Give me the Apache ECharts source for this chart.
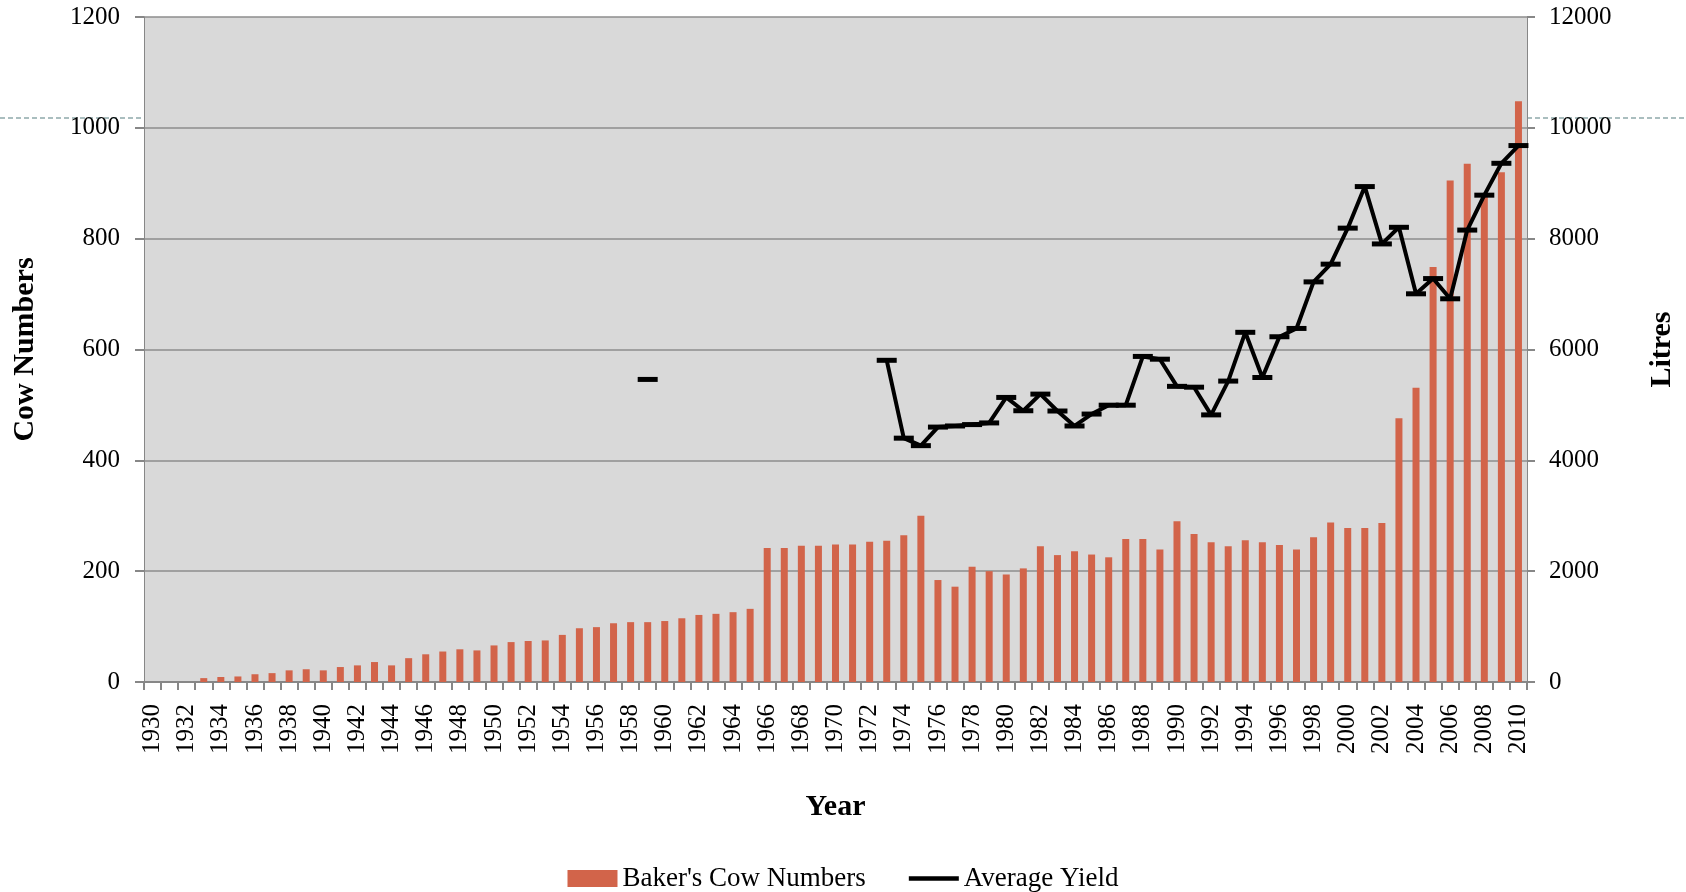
<!DOCTYPE html>
<html>
<head>
<meta charset="utf-8">
<script src="https://cdn.jsdelivr.net/npm/echarts@6/dist/echarts.min.js"></script>
<style>
  html, body { margin: 0; padding: 0; background: #fff; }
  #chart { width: 1686px; height: 892px; }
</style>
</head>
<body>
<div id="chart"></div>
<script>
// years on the category axis
var years = [];
for (var y = 1930; y <= 2010; y++) years.push(String(y));

// Baker's cow numbers, 1930..2010 (left axis)
var cowNumbers = [
  0, 0, 0, 7, 9, 10, 14, 16, 21, 23,            // 1930-1939
  21, 27, 30, 36, 30, 43, 50, 55, 59, 57,       // 1940-1949
  66, 72, 74, 75, 85, 97, 99, 106, 108, 108,    // 1950-1959
  110, 115, 121, 123, 126, 132, 242, 242, 246, 246, // 1960-1969
  248, 248, 253, 255, 265, 300, 184, 172, 208, 200, // 1970-1979
  194, 205, 245, 229, 236, 230, 225, 258, 258, 239, // 1980-1989
  290, 267, 252, 245, 256, 252, 247, 239, 261, 288, // 1990-1999
  278, 278, 287, 476, 531, 749, 905, 935, 880, 920, // 2000-2009
  1048                                           // 2010
];

// average yield in litres (right axis), null = no record
var avgYield = [
  null, null, null, null, null, null, null, null, null, null,   // 1930-1939
  null, null, null, null, null, null, null, null, null, null,   // 1940-1949
  null, null, null, null, null, null, null, null, null, 5460,   // 1950-1959
  null, null, null, null, null, null, null, null, null, null,   // 1960-1969
  null, null, null, 5805, 4400, 4265, 4600, 4620, 4645, 4675,   // 1970-1979
  5135, 4895, 5195, 4890, 4620, 4835, 4995, 4995, 5875, 5825,   // 1980-1989
  5335, 5320, 4820, 5430, 6310, 5495, 6230, 6380, 7220, 7540,   // 1990-1999
  8190, 8940, 7905, 8205, 7005, 7280, 6915, 8155, 8785, 9360,   // 2000-2009
  9680                                                          // 2010
];

var serif = 'Liberation Serif';
var axisGrey = '#878787';

var myChart = echarts.init(document.getElementById('chart'));

var option = {
  animation: false,
  grid: {
    left: 144,
    right: 159,
    top: 17,
    bottom: 210,
    show: true,
    backgroundColor: '#d9d9d9',
    borderWidth: 0
  },
  legend: {
    top: 860,
    left: 'center',
    itemWidth: 50,
    itemHeight: 17,
    itemGap: 43,
    textStyle: { fontFamily: serif, fontSize: 27, color: '#000' },
    data: [
      { name: "Baker's Cow Numbers", icon: 'rect' },
      { name: 'Average Yield', icon: 'path://M0,0H56V5H0Z' }
    ]
  },
  // stray dashed line of the original, hidden behind the plot area
  graphic: [
    { type: 'line', shape: { x1: 0, y1: 118, x2: 144, y2: 118 },
      style: { stroke: '#8fa9aa', lineWidth: 1.5, lineDash: [5, 3] } },
    { type: 'line', shape: { x1: 1527, y1: 118, x2: 1686, y2: 118 },
      style: { stroke: '#8fa9aa', lineWidth: 1.5, lineDash: [5, 3] } }
  ],
  xAxis: {
    type: 'category',
    data: years,
    name: 'Year',
    nameLocation: 'middle',
    nameGap: 110,
    nameTextStyle: { fontFamily: serif, fontSize: 30, fontWeight: 'bold', color: '#000' },
    axisLine: { lineStyle: { color: axisGrey, width: 2 } },
    axisTick: { show: true, interval: 0, length: 8, lineStyle: { color: axisGrey, width: 2 } },
    axisLabel: {
      interval: 1,
      rotate: 90,
      margin: 22,
      fontFamily: serif,
      fontSize: 25,
      color: '#000'
    }
  },
  yAxis: [
    {
      type: 'value',
      min: 0,
      max: 1200,
      interval: 200,
      name: 'Cow Numbers',
      nameLocation: 'middle',
      nameRotate: 90,
      nameGap: 104,
      nameTextStyle: { fontFamily: serif, fontSize: 30, fontWeight: 'bold', color: '#000' },
      axisLine: { show: true, lineStyle: { color: axisGrey, width: 1 } },
      axisTick: { show: true, length: 9, lineStyle: { color: axisGrey, width: 2 } },
      axisLabel: {
        margin: 24, fontFamily: serif, fontSize: 25, color: '#000',
        formatter: function (v) { return String(v); }
      },
      splitLine: { show: true, lineStyle: { color: '#8c8c8c', width: 1.5 } }
    },
    {
      type: 'value',
      min: 0,
      max: 12000,
      interval: 2000,
      position: 'right',
      name: 'Litres',
      nameLocation: 'middle',
      nameRotate: 90,
      nameGap: 120,
      nameTextStyle: { fontFamily: serif, fontSize: 30, fontWeight: 'bold', color: '#000' },
      axisLine: { show: true, lineStyle: { color: axisGrey, width: 1 } },
      axisTick: { show: true, length: 8, lineStyle: { color: axisGrey, width: 2 } },
      axisLabel: {
        margin: 22, fontFamily: serif, fontSize: 25, color: '#000',
        formatter: function (v) { return String(v); }
      },
      splitLine: { show: false }
    }
  ],
  series: [
    {
      name: "Baker's Cow Numbers",
      type: 'bar',
      yAxisIndex: 0,
      barWidth: 7,
      itemStyle: { color: '#d2644a' },
      data: cowNumbers
    },
    {
      name: 'Average Yield',
      type: 'line',
      yAxisIndex: 1,
      connectNulls: false,
      symbol: 'rect',
      symbolSize: [20, 5],
      showAllSymbol: true,
      lineStyle: { color: '#000', width: 4 },
      itemStyle: { color: '#000' },
      data: avgYield
    }
  ]
};

myChart.setOption(option);
</script>
</body>
</html>
